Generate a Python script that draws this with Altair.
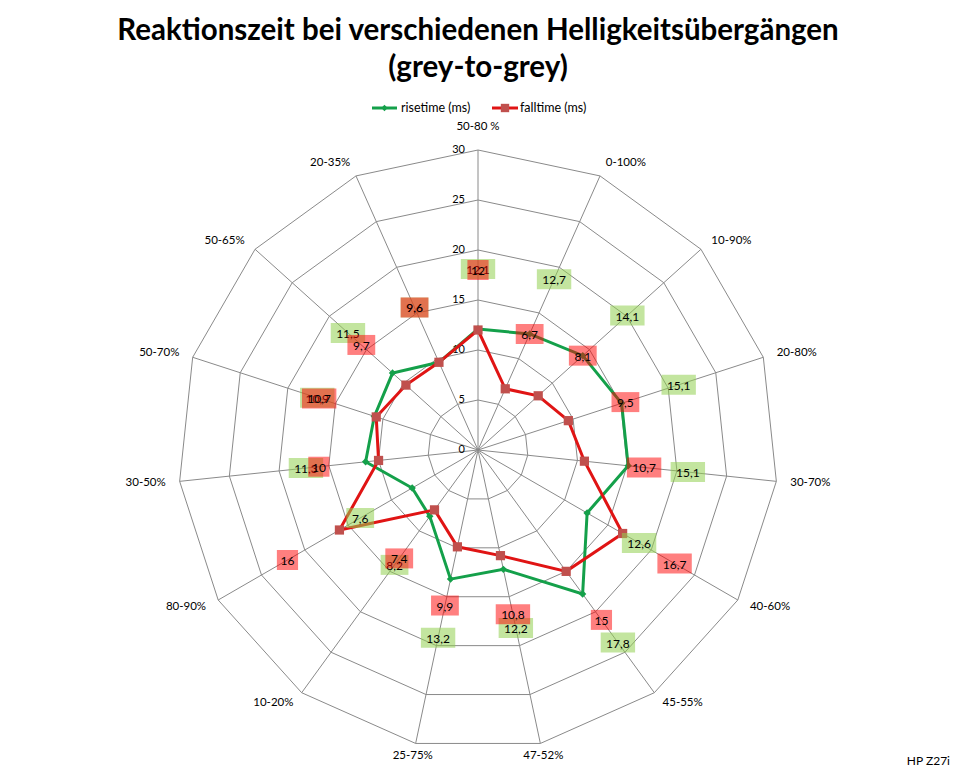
import altair as alt
import pandas as pd

# ---- data ----
categories = ["50-80 %", "0-100%", "10-90%", "20-80%", "30-70%", "40-60%", "45-55%",
              "47-52%", "25-75%", "10-20%", "80-90%", "30-50%", "50-70%", "50-65%", "20-35%"]
risetime = [12.1, 12.7, 14.1, 15.1, 15.1, 12.6, 17.8, 12.2, 13.2, 8.2, 7.6, 11.3, 10.9, 11.5, 9.6]
falltime = [12.0, 6.7, 8.1, 9.5, 10.7, 16.7, 15.0, 10.8, 9.9, 7.4, 16.0, 10.0, 10.7, 9.7, 9.6]
series_names = ["risetime (ms)", "falltime (ms)"]
rings = [5, 10, 15, 20, 25, 30]
ticks = [0, 5, 10, 15, 20, 25, 30]
title_lines = ["Reaktionszeit bei verschiedenen Helligkeitsübergängen", "(grey-to-grey)"]
footnote = "HP Z27i"

N = len(categories)
GREEN = "#14a04a"
RED = "#e01414"
RED_MARK = "#c0504d"
FONT = "Lato"

def fmt(v):
    return f"{v:g}".replace(".", ",")

rows = []
for name, vals in zip(series_names, [risetime, falltime]):
    for i in range(N + 1):
        v = vals[i % N]
        rows.append({"series": name, "idx": i, "r": v, "label": fmt(v)})
sdf = pd.DataFrame(rows)

grid = pd.DataFrame([{"ring": g, "idx": i} for g in rings for i in range(N + 1)])
spokes = pd.DataFrame({"idx": list(range(N)), "cat": categories})
tickdf = pd.DataFrame({"v": ticks, "t": [str(t) for t in ticks]})

xs = alt.Scale(domain=[-30, 30], nice=False, zero=False)
ys = alt.Scale(domain=[-30, 30], nice=False, zero=False)
TH = f"datum.idx * 2 * PI / {N}"

def X(f):
    return alt.X(f, type="quantitative", scale=xs, axis=None)

def Y(f):
    return alt.Y(f, type="quantitative", scale=ys, axis=None)

ring_layer = alt.Chart(grid).transform_calculate(
    th=TH).transform_calculate(
    x="datum.ring * sin(datum.th)", y="datum.ring * cos(datum.th)"
).mark_line(color="#8a8a8a", strokeWidth=1).encode(
    x=X("x"), y=Y("y"), detail="ring:N", order="idx:Q")

spoke_layer = alt.Chart(spokes).transform_calculate(
    th=TH).transform_calculate(
    x0="0", y0="0", x="30 * sin(datum.th)", y="30 * cos(datum.th)"
).mark_rule(color="#8a8a8a", strokeWidth=1).encode(
    x=X("x0"), y=Y("y0"), x2="x:Q", y2="y:Q")

tick_layer = alt.Chart(tickdf).transform_calculate(x="0").mark_text(
    font=FONT, fontSize=11, align="right", baseline="middle", color="#000000", dx=-13
).encode(x=X("x"), y=Y("v"), text="t:N")

def cat_layer(cond, align):
    return alt.Chart(spokes).transform_calculate(th=TH).transform_calculate(
        s="sin(datum.th)", x="31.4 * sin(datum.th)",
        y="(31.3 + 1.0 * pow(max(cos(datum.th), 0), 30)) * cos(datum.th)"
    ).transform_filter(cond).mark_text(
        font=FONT, fontSize=11.5, align=align, baseline="middle", color="#000000"
    ).encode(x=X("x"), y=Y("y"), text="cat:N")

cats = [cat_layer("datum.s > 0.3", "left"),
        cat_layer("datum.s < -0.3", "right"),
        cat_layer("abs(datum.s) <= 0.3", "center")]

def series_base(name):
    return alt.Chart(sdf).transform_filter(alt.datum.series == name).transform_calculate(
        th=TH).transform_calculate(
        x="datum.r * sin(datum.th)", y="datum.r * cos(datum.th)",
        lx="(datum.r + 6) * sin(datum.th)", ly="(datum.r + 6) * cos(datum.th)",
        w="(length(datum.label) * 6.6 + 8) / 20"
    ).transform_calculate(
        bx1="datum.lx - datum.w", bx2="datum.lx + datum.w",
        by1="datum.ly - 1", by2="datum.ly + 1")

g = series_base(series_names[0])
r = series_base(series_names[1])

g_line = g.mark_line(color=GREEN, strokeWidth=3).encode(x=X("x"), y=Y("y"), order="idx:Q")
r_line = r.mark_line(color=RED, strokeWidth=3).encode(x=X("x"), y=Y("y"), order="idx:Q")
g_pts = g.transform_filter(f"datum.idx < {N}").mark_point(
    shape="diamond", filled=True, size=55, color=GREEN, opacity=1).encode(x=X("x"), y=Y("y"))
r_pts = r.transform_filter(f"datum.idx < {N}").mark_point(
    shape="square", filled=True, size=85, color=RED_MARK, opacity=1).encode(x=X("x"), y=Y("y"))

def boxes(b, fill, op):
    return b.transform_filter(f"datum.idx < {N}").mark_rect(fill=fill, opacity=op).encode(
        x=X("bx1"), x2="bx2:Q", y=Y("by1"), y2="by2:Q")

def texts(b):
    return b.transform_filter(f"datum.idx < {N}").mark_text(
        font=FONT, fontSize=12, color="#000000", baseline="middle", align="center", dy=1
    ).encode(x=X("lx"), y=Y("ly"), text="label:N")

one = pd.DataFrame({"a": [0]})

title1 = alt.Chart(pd.DataFrame({"t": [title_lines[0]]})).mark_text(
    font=FONT, fontWeight="bold", fontSize=29.5, align="center", baseline="alphabetic", color="#000000"
).encode(x=alt.value(300), y=alt.value(-110), text="t:N")
title2 = alt.Chart(pd.DataFrame({"t": [title_lines[1]]})).mark_text(
    font=FONT, fontWeight="bold", fontSize=29.5, align="center", baseline="alphabetic", color="#000000"
).encode(x=alt.value(300), y=alt.value(-73), text="t:N")

leg = []
for (x1, x2, xm, xt, col, mcol, shp, sz, name) in [
        (194, 219, 206.5, 223, GREEN, GREEN, "diamond", 40, series_names[0]),
        (314, 340, 327, 342, RED, RED_MARK, "square", 70, series_names[1])]:
    leg.append(alt.Chart(one).mark_rule(color=col, strokeWidth=3).encode(
        x=alt.value(x1), x2=alt.value(x2), y=alt.value(-42)))
    leg.append(alt.Chart(one).mark_point(shape=shp, filled=True, size=sz, color=mcol, opacity=1).encode(
        x=alt.value(xm), y=alt.value(-42)))
    leg.append(alt.Chart(pd.DataFrame({"t": [name]})).mark_text(
        font=FONT, fontSize=12.5, align="left", baseline="middle", color="#000000").encode(
        x=alt.value(xt), y=alt.value(-42), text="t:N"))

foot = alt.Chart(pd.DataFrame({"t": [footnote]})).mark_text(
    font=FONT, fontSize=12, align="right", baseline="middle", color="#000000"
).encode(x=alt.value(772), y=alt.value(611), text="t:N")

chart = alt.layer(
    ring_layer, spoke_layer, tick_layer, *cats,
    g_line, r_line, g_pts, r_pts,
    boxes(g, "#92d050", 0.55), texts(g),
    boxes(r, "#ff0000", 0.5), texts(r),
    title1, title2, *leg, foot
).properties(
    width=600, height=600,
    autosize=alt.AutoSizeParams(type="none"),
    padding={"left": 170, "top": 142, "right": 172, "bottom": 22},
    background="#ffffff"
).configure_view(strokeWidth=0)

chart.save("out.html", embed_options={"renderer": "svg", "actions": False})
